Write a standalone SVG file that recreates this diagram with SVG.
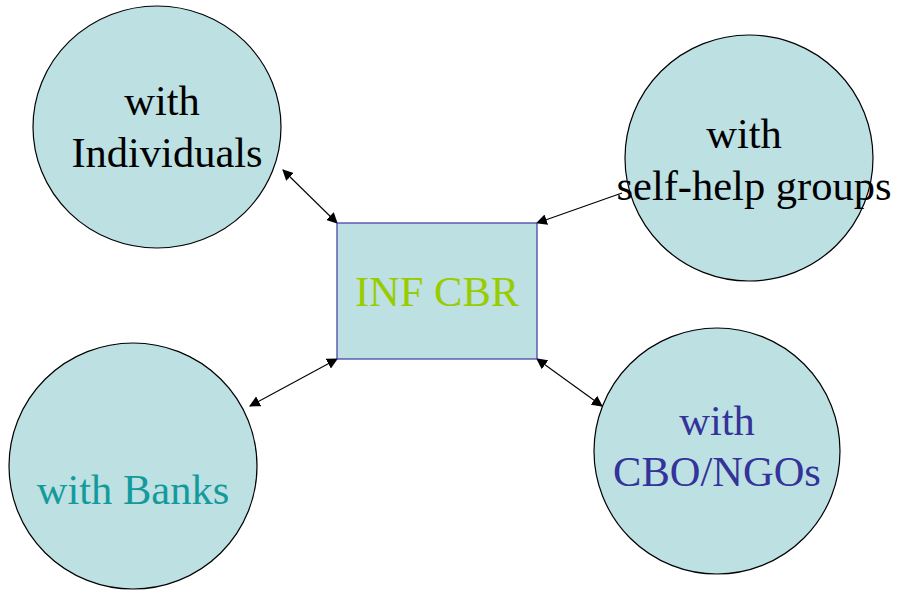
<svg xmlns="http://www.w3.org/2000/svg" width="924" height="600" viewBox="0 0 924 600">
  <style>
    .bubble { fill: #bde0e3; stroke: #000000; stroke-width: 1.2; }
    .hub { fill: #bde0e3; stroke: #3a3aa0; stroke-width: 1.2; }
    .lbl { font-family: "Liberation Serif", "Times New Roman", serif; font-size: 42.5px; text-anchor: middle; }
    .link { stroke: #000000; stroke-width: 1.1; fill: none; }
  </style>
  <defs>
    <marker id="tip" viewBox="0 0 10 10" refX="9" refY="5" markerWidth="11" markerHeight="11" markerUnits="userSpaceOnUse" orient="auto-start-reverse">
      <path d="M0,0 L10,5 L0,10 Z" fill="#000000"/>
    </marker>
  </defs>

  <rect width="924" height="600" fill="#ffffff"/>

  <g id="connectors">
    <line class="link" x1="283" y1="170" x2="337" y2="223" marker-start="url(#tip)" marker-end="url(#tip)"/>
    <line class="link" x1="622" y1="193" x2="537" y2="223" marker-end="url(#tip)"/>
    <line class="link" x1="337" y1="359" x2="250" y2="406" marker-start="url(#tip)" marker-end="url(#tip)"/>
    <line class="link" x1="537" y1="359" x2="602" y2="406" marker-start="url(#tip)" marker-end="url(#tip)"/>
  </g>

  <g id="hub">
    <rect class="hub" x="337" y="223" width="200" height="136"/>
    <text class="lbl" x="437" y="306" fill="#99cc00">INF CBR</text>
  </g>

  <g id="individuals">
    <ellipse class="bubble" cx="157" cy="127" rx="124" ry="121"/>
    <text class="lbl" x="162" y="115" fill="#000000">with</text>
    <text class="lbl" x="167" y="167" fill="#000000">Individuals</text>
  </g>

  <g id="self-help">
    <ellipse class="bubble" cx="749" cy="158" rx="124" ry="123"/>
    <text class="lbl" x="744" y="148" fill="#000000">with</text>
    <text class="lbl" x="754" y="200" fill="#000000">self-help groups</text>
  </g>

  <g id="banks">
    <ellipse class="bubble" cx="133" cy="466" rx="124" ry="123"/>
    <text class="lbl" x="133" y="504" fill="#139b9b">with Banks</text>
  </g>

  <g id="cbo-ngos">
    <ellipse class="bubble" cx="717" cy="451" rx="123" ry="123"/>
    <text class="lbl" x="717" y="435" fill="#333399">with</text>
    <text class="lbl" x="717" y="486" fill="#333399">CBO/NGOs</text>
  </g>
</svg>
